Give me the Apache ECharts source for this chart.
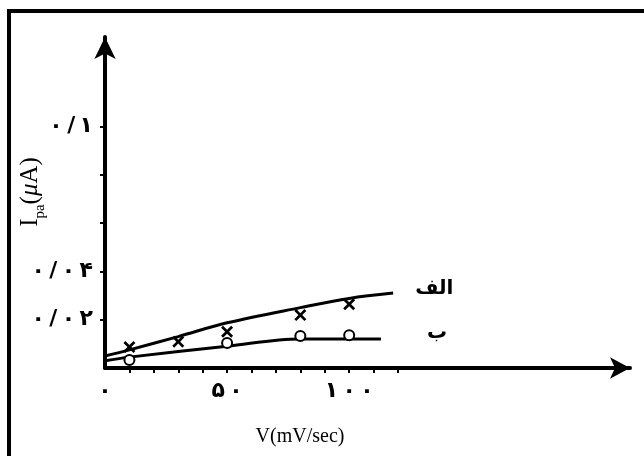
<!DOCTYPE html>
<html>
<head>
<meta charset="utf-8">
<script src="https://cdn.jsdelivr.net/npm/echarts@6/dist/echarts.min.js"></script>
<style>
  html, body { margin: 0; padding: 0; background: #fff; }
  #chart { width: 644px; height: 456px; }
</style>
</head>
<body>
<div id="chart"></div>
<script>
// Peak current vs. scan rate, two electrodes (الف and ب)
const seriesNames = ['الف', 'ب'];

// measured points
const scanRateA = [10, 30, 50, 80, 100];
const currentA  = [0.0087, 0.0109, 0.0150, 0.0219, 0.0264];
const scanRateB = [10, 50, 80, 100];
const currentB  = [0.0033, 0.0103, 0.0132, 0.0136];

// hand-drawn trend curves
const curveXA = [0, 10, 30, 50, 80, 100, 118];
const curveYA = [0.0050, 0.0075, 0.0130, 0.0187, 0.0250, 0.0288, 0.0310];
const curveXB = [0, 10, 50, 80, 113];
const curveYB = [0.0030, 0.0045, 0.0090, 0.0120, 0.0120];

// axis ticks and labels (Persian digits, thin-spaced as typeset)
const xTickValues  = [10, 20, 30, 40, 50, 60, 70, 80, 90, 100, 110, 120];
const xLabelValues = [0, 50, 100];
const xLabelText   = ['۰', '۵\u2009۰', '۱\u2009۰\u2009۰'];
const yTickValues  = [0.02, 0.04, 0.06, 0.08, 0.1];
const yLabelValues = [0.02, 0.04, 0.1];
const yLabelText   = ['۰\u2009/\u2009۰\u2009۲', '۰\u2009/\u2009۰\u2009۴', '۰\u2009/\u2009۱'];

const xMax = 215;
const yMax = 0.137;

function pairs(xs, ys) { return xs.map((x, i) => [x, ys[i]]); }
function labelFor(values, texts) {
  return function (v) {
    let best = 0;
    values.forEach((c, i) => { if (Math.abs(c - v) < Math.abs(values[best] - v)) best = i; });
    return texts[best];
  };
}

const crossPath = 'path://M0,1.6 L1.6,0 L5,3.4 L8.4,0 L10,1.6 L6.6,5 L10,8.4 L8.4,10 L5,6.6 L1.6,10 L0,8.4 L3.4,5 Z';
const ink = '#000';
const digitFont = { color: ink, fontFamily: 'DejaVu Sans', fontWeight: 'bold', fontSize: 22 };

const chart = echarts.init(document.getElementById('chart'), null, { renderer: 'canvas' });
chart.setOption({
  backgroundColor: '#fff',
  animation: false,
  grid: { left: 105, right: 14, top: 37, bottom: 88, containLabel: false },
  xAxis: {
    type: 'value', min: 0, max: xMax,
    splitLine: { show: false },
    axisLine: { show: true, onZero: false, symbol: ['none', 'arrow'], symbolSize: [16, 20],
                lineStyle: { color: ink, width: 4 } },
    axisTick: { show: true, customValues: xTickValues, length: 5, inside: false,
                lineStyle: { color: ink, width: 2 } },
    axisLabel: Object.assign({ show: true, customValues: xLabelValues,
                 formatter: labelFor(xLabelValues, xLabelText), margin: 12 }, digitFont)
  },
  yAxis: {
    type: 'value', min: 0, max: yMax,
    splitLine: { show: false },
    axisLine: { show: true, onZero: false, symbol: ['none', 'arrow'], symbolSize: [16, 22],
                lineStyle: { color: ink, width: 4 } },
    axisTick: { show: true, customValues: yTickValues, length: 5, inside: false,
                lineStyle: { color: ink, width: 2 } },
    axisLabel: Object.assign({ show: true, customValues: yLabelValues,
                 formatter: labelFor(yLabelValues, yLabelText), margin: 12 }, digitFont)
  },
  graphic: [
    { type: 'polyline', silent: true,
      shape: { points: [[9, 456], [9, 11], [644, 11]] },
      style: { stroke: ink, lineWidth: 4, fill: null } },
    { type: 'text', x: 300, y: 437, silent: true,
      style: { text: 'V(mV/sec)', fill: ink, font: '20px "Liberation Serif"',
               align: 'center', verticalAlign: 'middle' } },
    { type: 'text', x: 30, y: 192, rotation: Math.PI / 2, silent: true,
      style: { text: '{a|I}{s|pa}{a|(}{m|μ}{a|A)}', align: 'center', verticalAlign: 'middle',
               rich: {
                 a: { fill: ink, fontFamily: 'Liberation Serif', fontSize: 25, verticalAlign: 'bottom' },
                 m: { fill: ink, fontFamily: 'Liberation Serif', fontStyle: 'italic', fontSize: 25, verticalAlign: 'bottom' },
                 s: { fill: ink, fontFamily: 'Liberation Serif', fontSize: 15, verticalAlign: 'bottom', padding: [0, 0, -5, 0] }
               } } }
  ],
  series: [
    { name: seriesNames[0], type: 'line', data: pairs(curveXA, curveYA), smooth: 0.35,
      showSymbol: false, lineStyle: { color: ink, width: 3 },
      endLabel: { show: true, formatter: seriesNames[0], distance: 22, offset: [0, -4],
                  color: ink, fontFamily: 'DejaVu Sans', fontWeight: 'bold', fontSize: 20 } },
    { name: seriesNames[1], type: 'line', data: pairs(curveXB, curveYB), smooth: 0.35,
      showSymbol: false, lineStyle: { color: ink, width: 3 },
      endLabel: { show: true, formatter: seriesNames[1], distance: 46, offset: [0, -6],
                  color: ink, fontFamily: 'DejaVu Sans', fontWeight: 'bold', fontSize: 20 } },
    { type: 'scatter', data: pairs(scanRateA, currentA), symbol: crossPath, symbolSize: 12,
      itemStyle: { color: ink, opacity: 1 }, z: 5 },
    { type: 'scatter', data: pairs(scanRateB, currentB), symbol: 'circle', symbolSize: 10,
      itemStyle: { color: '#fff', borderColor: ink, borderWidth: 2, opacity: 1 }, z: 5 }
  ]
});
</script>
</body>
</html>
